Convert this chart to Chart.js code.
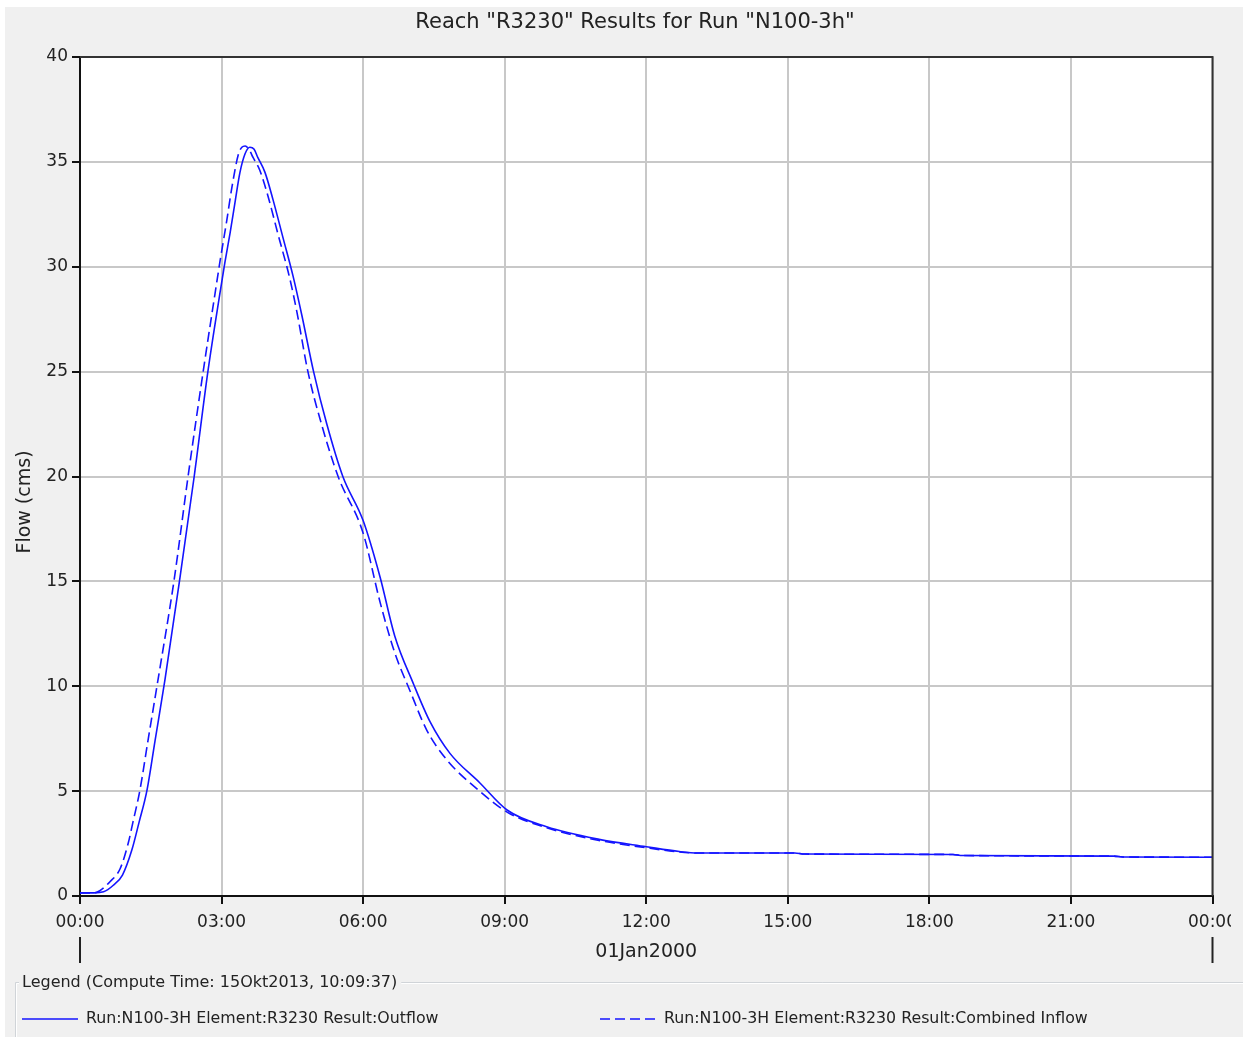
<!DOCTYPE html>
<html>
<head>
<meta charset="utf-8">
<script src="https://cdn.jsdelivr.net/npm/chart.js@4.4.1/dist/chart.umd.min.js"></script>
<style>
  html, body { margin: 0; padding: 0; background: #ffffff; }
  #wrap { width: 1245px; height: 1037px; position: relative; }
</style>
</head>
<body>
<div id="wrap"><canvas id="c" width="1245" height="1037"></canvas></div>
<script>
// ---- data (hours since 01Jan2000 00:00, flow in cms) ----
const outflowHours = [0, 0.3, 0.5, 0.7, 0.9, 1.1, 1.25, 1.42, 1.59, 1.80, 2.12, 2.42, 2.71, 2.97, 3.07, 3.18, 3.28, 3.39, 3.50, 3.60, 3.69, 3.77, 3.92, 4.09, 4.30, 4.51, 4.70, 4.95, 5.23, 5.57, 6.00, 6.36, 6.67, 7.06, 7.42, 7.84, 8.47, 9.05, 9.89, 11.0, 12.0, 12.7, 13.1, 15.15, 15.35, 18.5, 18.7, 21.9, 22.1, 24];
const outflowValues = [0.15, 0.15, 0.2, 0.5, 1.0, 2.2, 3.5, 5.05, 7.4, 10.3, 15.2, 20.0, 25.0, 28.8, 30.2, 31.6, 33.0, 34.5, 35.4, 35.7, 35.6, 35.2, 34.5, 33.2, 31.4, 29.6, 27.7, 25.0, 22.5, 20.0, 17.9, 15.2, 12.4, 10.15, 8.3, 6.8, 5.4, 4.1, 3.3, 2.7, 2.35, 2.12, 2.05, 2.05, 2.0, 1.98, 1.93, 1.9, 1.86, 1.85];

const inflowHours = [0, 0.3, 0.42, 0.63, 0.85, 1.02, 1.12, 1.27, 1.44, 1.66, 1.99, 2.29, 2.61, 2.86, 2.97, 3.11, 3.22, 3.35, 3.43, 3.50, 3.58, 3.67, 3.81, 3.98, 4.19, 4.45, 4.60, 4.83, 5.13, 5.47, 6.00, 6.36, 6.67, 6.99, 7.35, 7.77, 8.47, 9.05, 9.89, 11.0, 12.0, 12.7, 13.1, 15.15, 15.35, 18.5, 18.7, 21.9, 22.1, 24];
const inflowValues = [0.15, 0.15, 0.25, 0.67, 1.3, 2.5, 3.5, 5.05, 7.4, 10.4, 15.0, 20.0, 25.0, 28.7, 30.3, 32.2, 33.8, 35.3, 35.7, 35.76, 35.6, 35.2, 34.6, 33.4, 31.6, 29.4, 27.8, 25.0, 22.4, 20.0, 17.3, 14.0, 11.6, 9.8, 7.9, 6.5, 5.0, 4.0, 3.25, 2.65, 2.3, 2.1, 2.05, 2.05, 2.0, 1.98, 1.93, 1.9, 1.86, 1.85];

const timeTickLabels = ['00:00', '03:00', '06:00', '09:00', '12:00', '15:00', '18:00', '21:00', '00:00'];
const dateLabel = '01Jan2000';
const chartTitle = 'Reach "R3230" Results for Run "N100-3h"';
const yAxisTitle = 'Flow (cms)';
const legendTitle = 'Legend (Compute Time: 15Okt2013, 10:09:37)';
const seriesNames = ['Run:N100-3H Element:R3230 Result:Outflow', 'Run:N100-3H Element:R3230 Result:Combined Inflow'];

const FONT = '"DejaVu Sans", sans-serif';
const BG = '#f0f0f0';
const BLUE = '#1414ff';

const toPoints = (xs, ys) => xs.map((x, i) => ({ x: x, y: ys[i] }));

const decor = {
  id: 'decor',
  beforeDraw(chart) {
    const ctx = chart.ctx, a = chart.chartArea;
    ctx.save();
    ctx.fillStyle = '#ffffff';
    ctx.fillRect(0, 0, chart.width, chart.height);
    ctx.fillStyle = BG;
    ctx.fillRect(5, 7, 1238, 1030);
    ctx.fillStyle = '#ffffff';
    ctx.fillRect(a.left, a.top, a.right - a.left, a.bottom - a.top);
    ctx.restore();
  },
  afterDraw(chart) {
    const ctx = chart.ctx, a = chart.chartArea;
    const xs = chart.scales.x;
    ctx.save();
    // top and right frame
    ctx.strokeStyle = '#333333';
    ctx.lineWidth = 2;
    ctx.beginPath();
    ctx.moveTo(a.left, a.top);
    ctx.lineTo(a.right, a.top);
    ctx.lineTo(a.right, a.bottom);
    ctx.stroke();

    // cover clipped last tick label edge
    ctx.fillStyle = BG;
    ctx.fillRect(1231, a.bottom + 10, 12, 30);

    // title
    ctx.fillStyle = '#222222';
    ctx.font = '21px ' + FONT;
    ctx.textAlign = 'center';
    ctx.textBaseline = 'middle';
    ctx.fillText(chartTitle, 635, 23);

    // y axis title
    ctx.font = '19px ' + FONT;
    ctx.save();
    ctx.translate(25, 502);
    ctx.rotate(-Math.PI / 2);
    ctx.fillText(yAxisTitle, 0, 0);
    ctx.restore();

    // date label and day markers
    const x0 = xs.getPixelForValue(xs.min), x1 = xs.getPixelForValue(xs.max);
    ctx.fillText(dateLabel, (x0 + x1) / 2, 952);
    ctx.strokeStyle = '#222222';
    ctx.lineWidth = 2;
    ctx.beginPath();
    ctx.moveTo(x0, 937); ctx.lineTo(x0, 963);
    ctx.moveTo(x1, 937); ctx.lineTo(x1, 963);
    ctx.stroke();

    // legend group box
    ctx.font = '16px ' + FONT;
    ctx.textAlign = 'left';
    ctx.fillStyle = '#222222';
    ctx.fillText(legendTitle, 22, 983);
    const tw = ctx.measureText(legendTitle).width;
    ctx.lineWidth = 1;
    ctx.strokeStyle = '#d0d4d8';
    ctx.beginPath();
    ctx.moveTo(15.5, 1037); ctx.lineTo(15.5, 982.5); ctx.lineTo(19, 982.5);
    ctx.moveTo(22 + tw + 4, 982.5); ctx.lineTo(1243, 982.5);
    ctx.stroke();
    ctx.strokeStyle = '#ffffff';
    ctx.beginPath();
    ctx.moveTo(16.5, 1037); ctx.lineTo(16.5, 983.5); ctx.lineTo(19, 983.5);
    ctx.moveTo(22 + tw + 4, 983.5); ctx.lineTo(1243, 983.5);
    ctx.stroke();

    // legend entries
    const ds = chart.data.datasets;
    const entries = [{ x: 22, tx: 86 }, { x: 600, tx: 664 }];
    ctx.font = '15.8px ' + FONT;
    entries.forEach((e, i) => {
      ctx.strokeStyle = ds[i].borderColor;
      ctx.lineWidth = 1.6;
      ctx.setLineDash(ds[i].borderDash || []);
      ctx.beginPath();
      ctx.moveTo(e.x, 1019); ctx.lineTo(e.x + 56, 1019);
      ctx.stroke();
      ctx.setLineDash([]);
      ctx.fillStyle = '#222222';
      ctx.fillText(ds[i].label, e.tx, 1019);
    });
    ctx.restore();
  }
};

new Chart(document.getElementById('c'), {
  type: 'line',
  data: {
    datasets: [
      {
        label: seriesNames[0],
        data: toPoints(outflowHours, outflowValues),
        borderColor: BLUE,
        borderWidth: 1.6,
        pointRadius: 0,
        cubicInterpolationMode: 'monotone',
        fill: false
      },
      {
        label: seriesNames[1],
        data: toPoints(inflowHours, inflowValues),
        borderColor: BLUE,
        borderWidth: 1.6,
        borderDash: [10, 5],
        pointRadius: 0,
        cubicInterpolationMode: 'monotone',
        fill: false
      }
    ]
  },
  options: {
    responsive: false,
    animation: false,
    events: [],
    layout: { padding: { left: 0, right: 31, top: 57, bottom: 0 } },
    plugins: { legend: { display: false }, title: { display: false }, tooltip: { enabled: false } },
    scales: {
      x: {
        type: 'linear',
        min: 0,
        max: 24,
        afterFit: s => { s.height = 141; },
        afterBuildTicks: s => { s.ticks = timeTickLabels.map((_, i) => ({ value: i * 3 })); },
        ticks: {
          autoSkip: false,
          maxRotation: 0,
          padding: 8,
          color: '#222222',
          font: { family: FONT, size: 17 },
          callback: (v, i) => timeTickLabels[i]
        },
        grid: { color: '#c8c8c8', lineWidth: 2, tickLength: 8, tickColor: '#111111', tickWidth: 2 },
        border: { color: '#111111', width: 2 }
      },
      y: {
        min: 0,
        max: 40,
        afterFit: s => { s.width = 80; },
        ticks: {
          stepSize: 5,
          padding: 4,
          color: '#222222',
          font: { family: FONT, size: 17 }
        },
        grid: { color: '#c8c8c8', lineWidth: 2, tickLength: 8, tickColor: '#111111', tickWidth: 2 },
        border: { color: '#111111', width: 2 }
      }
    }
  },
  plugins: [decor]
});
</script>
</body>
</html>
